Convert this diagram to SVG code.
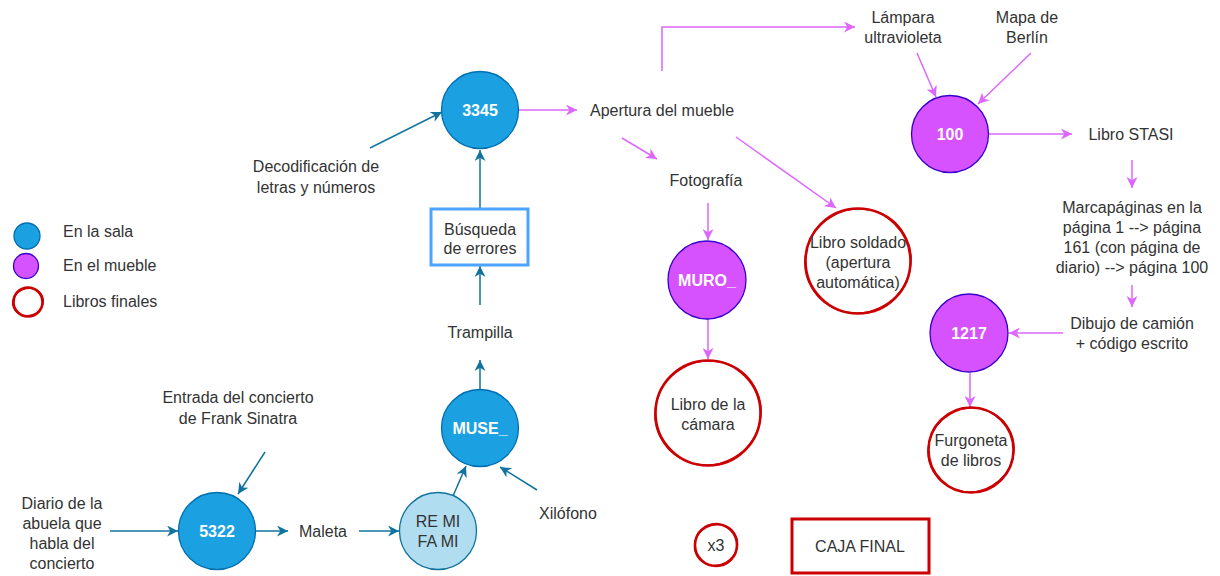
<svg xmlns="http://www.w3.org/2000/svg" width="1220" height="576" viewBox="0 0 1220 576">
<defs>
<style>
text{font-family:"Liberation Sans",Arial,sans-serif;font-size:16px;fill:#333;text-anchor:middle}
.w{fill:#fff;font-weight:bold}
.lg{text-anchor:start}
.blue{fill:#1ba1e2;stroke:#006eaf;stroke-width:1.3}
.lblue{fill:#b1ddf0;stroke:#10739e;stroke-width:1.3}
.purp{fill:#d652ff;stroke:#3700cc;stroke-width:1.3}
.red{fill:none;stroke:#cc0000;stroke-width:2.6}
.red2{fill:none;stroke:#cc0000;stroke-width:1.4}
.eb{fill:none;stroke:#10739e;stroke-width:1.5;marker-end:url(#ab)}
.ep{fill:none;stroke:#dd66ff;stroke-width:1.5;marker-end:url(#ap)}
</style>
<marker id="ab" viewBox="0 0 10 10" refX="10" refY="5" markerWidth="11" markerHeight="11" markerUnits="userSpaceOnUse" orient="auto"><path d="M0,0 L10,5 L0,10 L3,5 z" fill="#10739e"/></marker>
<marker id="ap" viewBox="0 0 10 10" refX="10" refY="5" markerWidth="11" markerHeight="11" markerUnits="userSpaceOnUse" orient="auto"><path d="M0,0 L10,5 L0,10 L3,5 z" fill="#dd66ff"/></marker>
</defs>
<rect width="1220" height="576" fill="#fff"/>

<g id="connectors">
<line class="eb" x1="370" y1="148" x2="442" y2="112"/>
<line class="eb" x1="480" y1="209" x2="480" y2="150"/>
<line class="eb" x1="480" y1="305" x2="480" y2="266"/>
<line class="eb" x1="480" y1="389" x2="480" y2="360"/>
<line class="eb" x1="453" y1="496" x2="466" y2="466"/>
<line class="eb" x1="537" y1="490" x2="500" y2="467"/>
<line class="eb" x1="110" y1="531" x2="178" y2="531"/>
<line class="eb" x1="265" y1="452" x2="238" y2="494"/>
<line class="eb" x1="256" y1="531" x2="288" y2="531"/>
<line class="eb" x1="359" y1="531" x2="399" y2="531"/>
<line class="ep" x1="518" y1="110" x2="577" y2="110"/>
<path class="ep" d="M662,71 L662,27 L855,27"/>
<line class="ep" x1="622" y1="138" x2="657" y2="159"/>
<line class="ep" x1="736" y1="137" x2="836" y2="208"/>
<line class="ep" x1="708" y1="203" x2="708" y2="240"/>
<line class="ep" x1="708" y1="319" x2="708" y2="359"/>
<line class="ep" x1="917" y1="53" x2="936" y2="97"/>
<line class="ep" x1="1031" y1="53" x2="978" y2="104"/>
<line class="ep" x1="988" y1="134" x2="1072" y2="134"/>
<line class="ep" x1="1132" y1="160" x2="1132" y2="188"/>
<line class="ep" x1="1132" y1="285" x2="1132" y2="307"/>
<line class="ep" x1="1063" y1="333" x2="1009" y2="333"/>
<line class="ep" x1="970" y1="373" x2="970" y2="407"/>
</g>

<g id="legend">
<circle class="blue" cx="27" cy="236" r="13"/>
<circle class="purp" cx="26" cy="266" r="12.5"/>
<circle class="red" cx="28" cy="302" r="14.5"/>
<ellipse class="red2" cx="28" cy="302" rx="15.5" ry="13.5" transform="rotate(-20 28 302)"/>
<text class="lg" x="63" y="237">En la sala</text>
<text class="lg" x="63" y="271">En el mueble</text>
<text class="lg" x="63" y="307">Libros finales</text>
</g>

<g id="n3345"><circle class="blue" cx="480" cy="110" r="38.5"/><text class="w" x="480" y="116">3345</text></g>
<g id="decod"><text x="316" y="172">Decodificación de</text><text x="316" y="193">letras y números</text></g>
<g id="busqueda"><rect x="431" y="209" width="97" height="56" fill="#fff" stroke="#4da3ff" stroke-width="3"/><text x="480" y="235">Búsqueda</text><text x="480" y="254">de errores</text></g>
<g id="trampilla"><text x="480" y="338">Trampilla</text></g>
<g id="muse"><circle class="blue" cx="480" cy="428" r="38.5"/><text class="w" x="480" y="434">MUSE_</text></g>
<g id="remi"><circle class="lblue" cx="438" cy="531" r="38.5"/><text x="438" y="527">RE MI</text><text x="438" y="547">FA MI</text></g>
<g id="xilofono"><text x="568" y="519">Xilófono</text></g>
<g id="maleta"><text x="323" y="537">Maleta</text></g>
<g id="n5322"><circle class="blue" cx="217" cy="531" r="38.5"/><text class="w" x="217" y="537">5322</text></g>
<g id="entrada"><text x="238" y="403">Entrada del concierto</text><text x="238" y="424">de Frank Sinatra</text></g>
<g id="diario"><text x="62" y="509">Diario de la</text><text x="62" y="529">abuela que</text><text x="62" y="549">habla del</text><text x="62" y="569">concierto</text></g>

<g id="apertura"><text x="662" y="116">Apertura del mueble</text></g>
<g id="fotografia"><text x="706" y="186">Fotografía</text></g>
<g id="muro"><circle class="purp" cx="707" cy="280" r="39"/><text class="w" x="707" y="286">MURO_</text></g>
<g id="camara"><circle class="red" cx="708" cy="413" r="52.5"/><ellipse class="red2" cx="708" cy="413" rx="53.5" ry="51.5" transform="rotate(-30 708 413)"/><text x="708" y="410">Libro de la</text><text x="708" y="430">cámara</text></g>
<g id="soldado"><circle class="red" cx="858" cy="261" r="52.5"/><ellipse class="red2" cx="858" cy="261" rx="53.5" ry="51.5" transform="rotate(-30 858 261)"/><text x="858" y="248">Libro soldado</text><text x="858" y="268">(apertura</text><text x="858" y="288">automática)</text></g>
<g id="lampara"><text x="903" y="23">Lámpara</text><text x="903" y="43">ultravioleta</text></g>
<g id="mapa"><text x="1027" y="23">Mapa de</text><text x="1027" y="43">Berlín</text></g>
<g id="n100"><circle class="purp" cx="950" cy="134" r="38.5"/><text class="w" x="950" y="140">100</text></g>
<g id="stasi"><text x="1131" y="140">Libro STASI</text></g>
<g id="marca"><text x="1132" y="213">Marcapáginas en la</text><text x="1132" y="233">página 1 --&gt; página</text><text x="1132" y="253">161 (con página de</text><text x="1132" y="273">diario) --&gt; página 100</text></g>
<g id="dibujo"><text x="1132" y="329">Dibujo de camión</text><text x="1132" y="349">+ código escrito</text></g>
<g id="n1217"><circle class="purp" cx="969" cy="333" r="39"/><text class="w" x="969" y="339">1217</text></g>
<g id="furgoneta"><circle class="red" cx="971" cy="450" r="42.5"/><ellipse class="red2" cx="971" cy="450" rx="43.5" ry="41.5" transform="rotate(-30 971 450)"/><text x="971" y="446">Furgoneta</text><text x="971" y="466">de libros</text></g>
<g id="x3"><circle class="red" cx="716" cy="545" r="21"/><ellipse class="red2" cx="716" cy="545" rx="22" ry="20" transform="rotate(-30 716 545)"/><text x="716" y="551">x3</text></g>
<g id="caja"><rect x="792" y="519" width="137" height="54" fill="#fff" stroke="#cc0000" stroke-width="3"/><text x="860" y="552">CAJA FINAL</text></g>
</svg>
